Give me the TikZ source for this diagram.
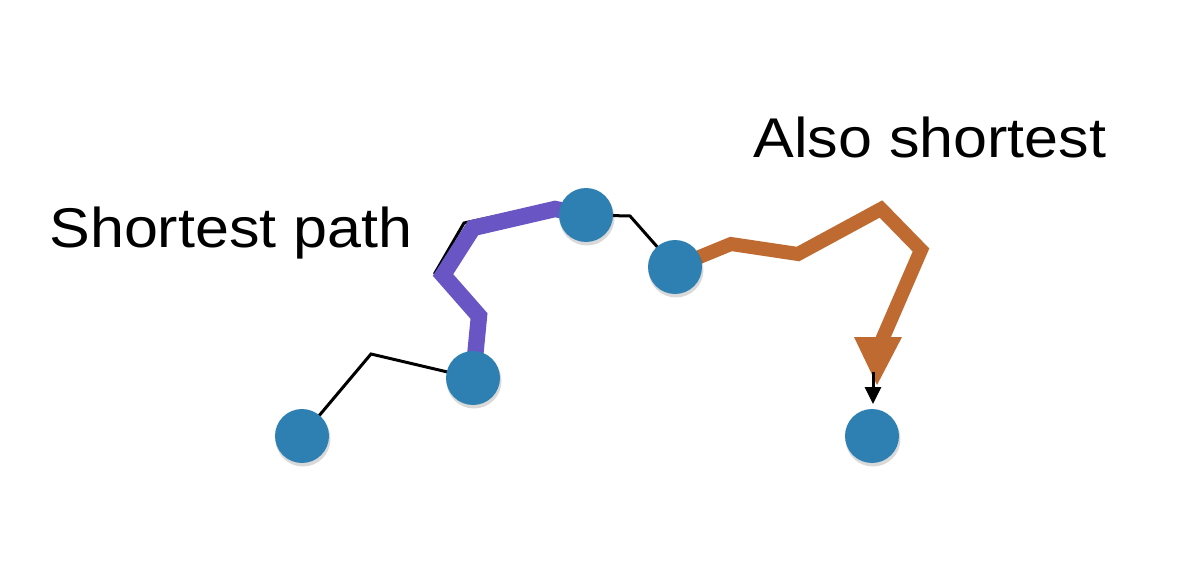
\documentclass[tikz,border=0pt]{standalone}
\usepackage{fontspec}
\setmainfont{Liberation Sans}
\usetikzlibrary{arrows.meta}
\definecolor{nodeblue}{RGB}{46,128,178}
\definecolor{pathpurple}{RGB}{106,85,196}
\definecolor{pathorange}{RGB}{190,106,48}
\begin{document}
\begin{tikzpicture}[x=0.5pt,y=-0.5pt,
  vertex/.style={circle,fill=nodeblue,minimum size=27pt,inner sep=0pt},
  shade/.style={circle,fill=black,opacity=0.15,minimum size=27.5pt,inner sep=0pt},
  edge/.style={draw=black,line width=1.5pt,line join=miter},
  purplepath/.style={draw=pathpurple,line width=8.2pt,line join=miter},
  orangepath/.style={draw=pathorange,line width=7pt,line join=miter},
  label/.style={anchor=base west,inner sep=0pt,font=\fontsize{28}{34}\selectfont}]
\useasboundingbox (0,0) rectangle (1200,567);
\fill[white] (0,0) rectangle (1200,567);

% coordinates of vertices
\coordinate (p1) at (302,436);
\coordinate (p2) at (473,378);
\coordinate (p3) at (586,215);
\coordinate (p4) at (675,267);
\coordinate (p5) at (872,436);

% bends
\coordinate (b1) at (371,354);
\coordinate (b2) at (630,216);
\coordinate (k1) at (476,317);
\coordinate (k2) at (435,273);
\coordinate (k3) at (464,223);
\coordinate (k4) at (553,204);
\coordinate (q1) at (479,316);
\coordinate (q2) at (443,275);
\coordinate (q3) at (473,228);
\coordinate (q4) at (555,209);
\coordinate (o1) at (731,244);
\coordinate (o2) at (798,254);
\coordinate (o3) at (881,209);
\coordinate (o4) at (921,250);
\coordinate (o5) at (882,340);
\coordinate (hl) at (854,337);
\coordinate (hr) at (902,337);
\coordinate (ht) at (877,385);
\coordinate (as) at (873,372);
\coordinate (ae) at (873,404);

% black edges
\draw[edge] (p1) -- (b1) -- (p2);
\draw[edge] (p2) -- (k1) -- (k2) -- (k3) -- (k4) -- (p3);
\draw[edge] (p3) -- (b2) -- (p4);

% highlighted paths
\draw[purplepath] (p2) -- (q1) -- (q2) -- (q3) -- (q4) -- (p3);
\draw[orangepath] (p4) -- (o1) -- (o2) -- (o3) -- (o4) -- (o5);
\fill[pathorange] (hl) -- (hr) -- (ht) -- cycle;
\draw[line width=1.5pt,-{Triangle[length=8.5pt,width=8pt]}] (as) -- (ae);

% vertices
\foreach \p in {p1,p2,p3,p4,p5}{
  \node[shade] at ([shift={(1,3)}]\p) {};
}
\node[vertex] (v1) at (p1) {};
\node[vertex] (v2) at (p2) {};
\node[vertex] (v3) at (p3) {};
\node[vertex] (v4) at (p4) {};
\node[vertex] (v5) at (p5) {};

% labels
\node[label] (t1) at (49,247) {\scalebox{1.09}[1]{Shortest path}};
\node[label] (t2) at (753,157) {\scalebox{1.09}[1]{Also shortest}};
\end{tikzpicture}
\end{document}
